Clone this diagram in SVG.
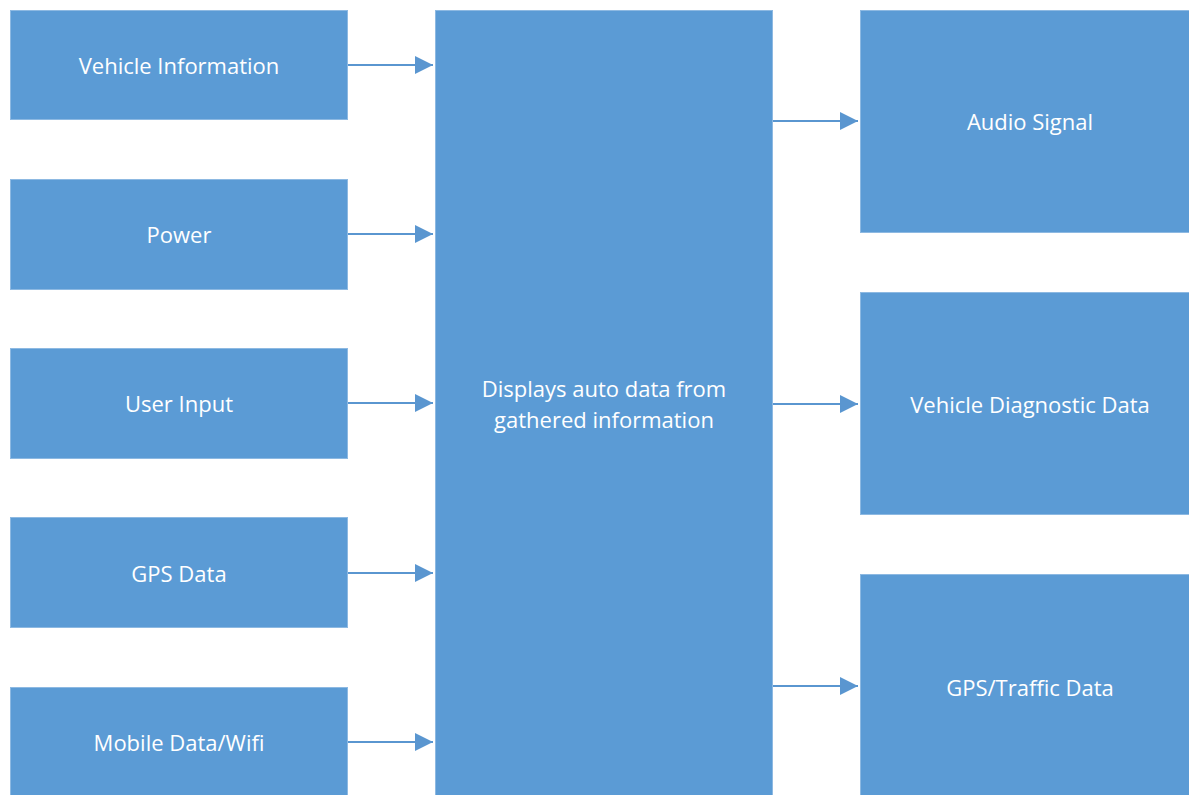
<svg xmlns="http://www.w3.org/2000/svg" width="1189" height="795" viewBox="0 0 1189 795">
<style>
.box{fill:#5B9BD5;stroke:#8DB9E2;stroke-width:1}
.lbl{fill:#FFFFFF;font-family:"Open Sans","Noto Sans",sans-serif;font-size:22px;text-anchor:middle;dominant-baseline:central}
.con{stroke:#5A96D0;stroke-width:2;fill:none;marker-end:url(#arr)}
</style>
<defs>
<marker id="arr" viewBox="0 0 18 18" refX="18" refY="9" markerWidth="18" markerHeight="18" markerUnits="userSpaceOnUse" orient="auto">
<path d="M0,0 L18,9 L0,18 Z" fill="#5A96D0"/>
</marker>
</defs>
<rect width="1189" height="795" fill="#FFFFFF"/>
<g id="vehicle-information"><rect class="box" x="10.5" y="10.5" width="337" height="109"/><text class="lbl" x="179" y="65">Vehicle Information</text></g>
<g id="power"><rect class="box" x="10.5" y="179.5" width="337" height="110"/><text class="lbl" x="179" y="234">Power</text></g>
<g id="user-input"><rect class="box" x="10.5" y="348.5" width="337" height="110"/><text class="lbl" x="179" y="403">User Input</text></g>
<g id="gps-data"><rect class="box" x="10.5" y="517.5" width="337" height="110"/><text class="lbl" x="179" y="573">GPS Data</text></g>
<g id="mobile-data"><rect class="box" x="10.5" y="687.5" width="337" height="115"/><text class="lbl" x="179" y="742">Mobile Data/Wifi</text></g>
<g id="display"><rect class="box" x="435.5" y="10.5" width="337" height="792"/><text class="lbl" x="604" y="388">Displays auto data from</text><text class="lbl" x="604" y="419">gathered information</text></g>
<g id="audio-signal"><rect class="box" x="860.5" y="10.5" width="340" height="222"/><text class="lbl" x="1030" y="121">Audio Signal</text></g>
<g id="vehicle-diagnostic"><rect class="box" x="860.5" y="292.5" width="340" height="222"/><text class="lbl" x="1030" y="404">Vehicle Diagnostic Data</text></g>
<g id="gps-traffic"><rect class="box" x="860.5" y="574.5" width="340" height="230"/><text class="lbl" x="1030" y="687">GPS/Traffic Data</text></g>
<g id="connectors">
<line class="con" x1="348" y1="65" x2="433" y2="65"/>
<line class="con" x1="348" y1="234" x2="433" y2="234"/>
<line class="con" x1="348" y1="403" x2="433" y2="403"/>
<line class="con" x1="348" y1="573" x2="433" y2="573"/>
<line class="con" x1="348" y1="742" x2="433" y2="742"/>
<line class="con" x1="773" y1="121" x2="858" y2="121"/>
<line class="con" x1="773" y1="404" x2="858" y2="404"/>
<line class="con" x1="773" y1="686" x2="858" y2="686"/>
</g>
</svg>
